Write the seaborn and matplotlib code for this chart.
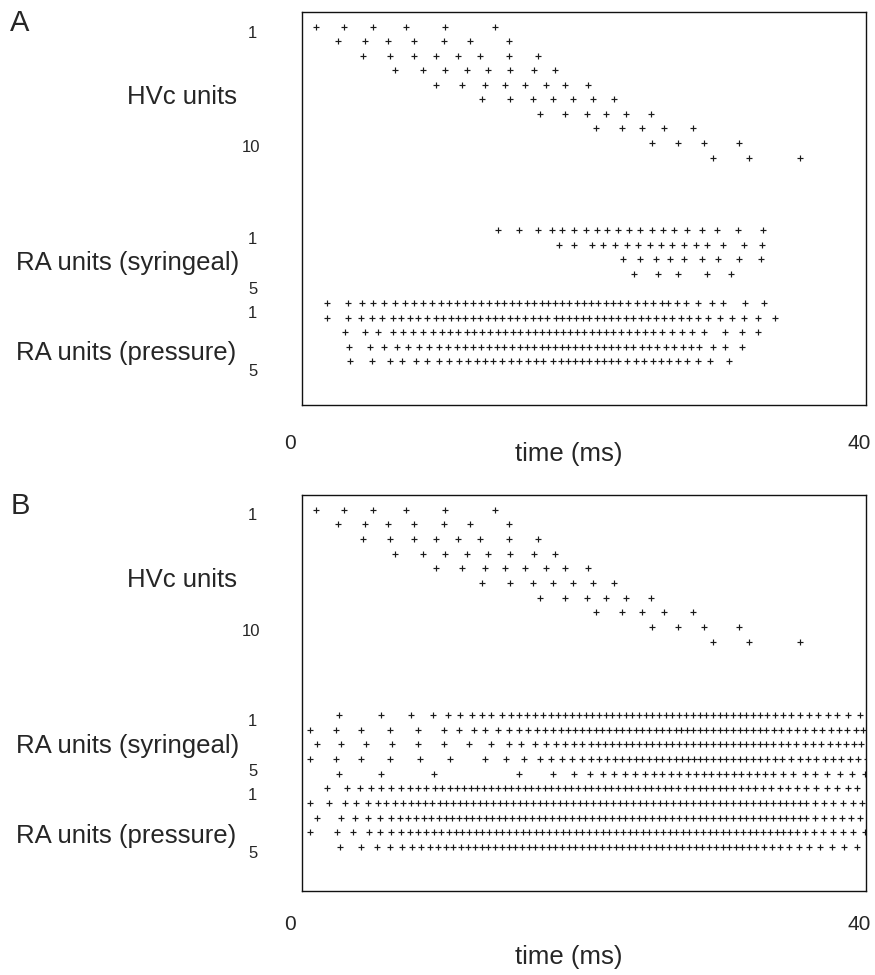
import matplotlib
matplotlib.use("Agg")
import matplotlib.pyplot as plt
import seaborn as sns
import pandas as pd

# ---------------- spike times (ms) ----------------
# HVc units 1..10 (same input pattern in both panels)
hvc_units = [
    [1.83, 3.80, 5.84, 8.16, 10.90, 14.42],
    [3.38, 5.27, 6.89, 8.72, 10.83, 12.66, 15.40],
    [5.13, 7.03, 8.72, 10.27, 11.81, 13.36, 15.40, 17.44],
    [7.38, 9.35, 10.90, 12.45, 13.92, 15.47, 17.16, 18.64],
    [10.27, 12.10, 13.71, 15.12, 16.53, 18.00, 19.34, 20.96],
    [13.50, 15.47, 17.09, 18.50, 19.90, 21.31, 22.78],
    [17.58, 19.34, 20.89, 22.22, 23.63, 25.39],
    [21.52, 23.35, 24.75, 26.30, 28.34],
    [25.46, 27.29, 29.11, 31.58],
    [29.75, 32.28, 35.86],
]

# Panel A: RA syringeal units 1..5
ra_syringeal_a = [
    [14.63, 16.10, 17.44, 18.42, 19.13, 19.97, 20.82, 21.59, 22.29, 23.07, 23.84,
     24.61, 25.46, 26.23, 27.00, 27.92, 28.97, 30.03, 31.50, 33.26],
    [18.92, 19.97, 21.24, 22.01, 22.86, 23.70, 24.47, 25.32, 26.09, 26.86, 27.71,
     28.55, 29.32, 30.45, 31.93, 33.19],
    [23.40, 24.61, 25.74, 26.72, 27.71, 28.99, 30.08, 31.60, 33.12],
    [24.21, 25.90, 27.26, 29.30, 30.99],
    [],
]

# Panel A: RA pressure units 1..5
ra_pressure_a = [
    [2.62, 4.06, 5.04, 5.86, 6.61, 7.38, 8.09, 8.74, 9.37, 9.96, 10.60, 11.20, 11.77,
     12.33, 12.89, 13.43, 13.99, 14.54, 15.07, 15.61, 16.13, 16.67, 17.18, 17.70,
     18.17, 18.64, 19.15, 19.65, 20.16, 20.68, 21.19, 21.68, 22.20, 22.71, 23.23,
     23.79, 24.40, 24.96, 25.55, 26.14, 26.60, 27.20, 27.85, 28.72, 29.66, 30.47,
     32.00, 33.33],
    [2.62, 4.06, 5.00, 5.75, 6.45, 7.22, 7.81, 8.44, 9.02, 9.61, 10.25, 10.78, 11.30,
     11.79, 12.31, 12.85, 13.36, 13.90, 14.42, 14.93, 15.47, 15.99, 16.53, 17.07,
     17.58, 18.10, 18.68, 19.15, 19.62, 20.11, 20.58, 21.05, 21.57, 22.08, 22.57,
     23.09, 23.61, 24.14, 24.68, 25.20, 25.74, 26.30, 26.88, 27.48, 28.08, 28.71,
     29.42, 30.24, 31.06, 31.93, 32.93, 34.11],
    [3.87, 5.27, 6.21, 7.22, 7.93, 8.67, 9.37, 10.04, 10.67, 11.25, 11.84, 12.43,
     12.96, 13.52, 14.06, 14.61, 15.12, 15.66, 16.17, 16.72, 17.23, 17.74, 18.24,
     18.68, 19.18, 19.69, 20.20, 20.70, 21.22, 21.73, 22.22, 22.74, 23.28, 23.84,
     24.40, 24.96, 25.55, 26.18, 26.84, 27.55, 28.25, 29.14, 30.59, 31.77, 32.93],
    [4.15, 5.63, 6.61, 7.55, 8.32, 9.07, 9.77, 10.50, 11.13, 11.72, 12.31, 12.89,
     13.43, 13.99, 14.54, 15.07, 15.63, 16.17, 16.69, 17.18, 17.70, 18.16, 18.64,
     19.11, 19.57, 20.04, 20.56, 21.05, 21.57, 22.08, 22.57, 23.09, 23.61, 24.14,
     24.73, 25.27, 25.83, 26.44, 27.03, 27.62, 28.18, 28.78, 29.77, 30.59, 31.81],
    [4.22, 5.79, 7.03, 7.90, 8.86, 9.66, 10.48, 11.18, 11.88, 12.54, 13.13, 13.71,
     14.30, 14.89, 15.54, 16.13, 16.72, 17.28, 17.81, 18.52, 19.04, 19.53, 20.04,
     20.56, 21.05, 21.57, 22.08, 22.57, 23.09, 23.68, 24.31, 24.92, 25.51, 26.09,
     26.67, 27.26, 27.90, 28.67, 29.54, 30.89],
]

# Panel B: RA syringeal units 1..5
ra_syringeal_b = [
    [3.45, 6.42, 8.49, 10.06, 11.11, 11.98, 12.80, 13.52, 14.16, 14.91, 15.52, 16.10,
     16.69, 17.25, 17.79, 18.33, 18.85, 19.36, 19.85, 20.32, 20.79, 21.26, 21.73,
     22.20, 22.67, 23.14, 23.61, 24.07, 24.54, 25.01, 25.48, 25.95, 26.42, 26.88,
     27.36, 27.87, 28.34, 28.81, 29.28, 29.75, 30.22, 30.68, 31.15, 31.62, 32.09,
     32.56, 33.03, 33.57, 34.09, 34.67, 35.25, 35.84, 36.48, 37.13, 37.83, 38.49,
     39.24, 40.06],
    [1.39, 3.26, 5.01, 7.05, 9.00, 10.81, 11.88, 12.92, 13.69, 14.63, 15.38, 16.08,
     16.74, 17.37, 17.95, 18.50, 19.04, 19.55, 20.06, 20.56, 21.03, 21.50, 21.96,
     22.43, 22.90, 23.37, 23.84, 24.31, 24.77, 25.25, 25.72, 26.18, 26.65, 27.12,
     27.48, 27.92, 28.34, 28.81, 29.28, 29.75, 30.22, 30.68, 31.15, 31.62, 32.09,
     32.56, 33.03, 33.50, 34.02, 34.55, 35.09, 35.65, 36.24, 36.85, 37.43, 38.02,
     38.61, 39.19, 39.78, 40.30],
    [1.92, 3.61, 5.37, 7.19, 9.00, 10.81, 12.59, 14.16, 15.38, 16.27, 17.21, 17.98,
     18.68, 19.36, 19.97, 20.56, 21.15, 21.66, 22.17, 22.67, 23.14, 23.61, 24.07,
     24.54, 25.01, 25.48, 25.95, 26.42, 26.88, 27.36, 27.87, 28.34, 28.81, 29.28,
     29.75, 30.22, 30.68, 31.15, 31.62, 32.09, 32.56, 33.03, 33.50, 33.97, 34.51,
     35.02, 35.60, 36.20, 36.78, 37.36, 37.95, 38.54, 39.12, 39.66, 40.13],
    [1.39, 3.26, 5.01, 7.01, 9.12, 11.27, 13.69, 15.21, 16.43, 17.56, 18.38, 19.13,
     19.85, 20.53, 21.15, 21.73, 22.29, 22.83, 23.35, 23.84, 24.31, 24.77, 25.25,
     25.72, 26.18, 26.65, 27.12, 27.55, 28.00, 28.40, 28.81, 29.28, 29.75, 30.22,
     30.68, 31.15, 31.62, 32.09, 32.56, 33.03, 33.57, 34.09, 34.62, 35.25, 35.84,
     36.43, 37.01, 37.60, 38.19, 38.77, 39.36, 39.94, 40.58],
    [3.45, 6.42, 10.13, 16.10, 18.50, 19.97, 21.08, 22.01, 22.78, 23.54, 24.24,
     24.94, 25.60, 26.18, 26.77, 27.36, 27.99, 28.57, 29.11, 29.63, 30.17, 30.68,
     31.22, 31.74, 32.28, 32.84, 33.38, 33.97, 34.67, 35.37, 36.20, 36.94, 37.78,
     38.66, 39.52, 40.46],
]

# Panel B: RA pressure units 1..5
ra_pressure_b = [
    [2.62, 4.03, 4.90, 5.68, 6.42, 7.12, 7.78, 8.42, 9.00, 9.59, 10.18, 10.71, 11.23,
     11.74, 12.24, 12.71, 13.17, 13.64, 14.11, 14.63, 15.10, 15.56, 16.03, 16.50,
     16.97, 17.44, 17.91, 18.38, 18.85, 19.32, 19.78, 20.25, 20.72, 21.19, 21.66,
     22.13, 22.60, 23.07, 23.54, 24.00, 24.47, 24.94, 25.41, 25.88, 26.35, 26.81,
     27.29, 27.87, 28.34, 28.81, 29.28, 29.75, 30.22, 30.68, 31.15, 31.69, 32.21,
     32.72, 33.26, 33.85, 34.44, 35.02, 35.65, 36.31, 37.01, 37.76, 38.49, 39.24,
     39.89],
    [1.39, 2.74, 3.85, 4.62, 5.49, 6.19, 6.77, 7.36, 7.95, 8.49, 9.00, 9.51, 10.01,
     10.53, 10.99, 11.46, 11.93, 12.40, 12.87, 13.34, 13.80, 14.28, 14.75, 15.21,
     15.68, 16.15, 16.62, 17.09, 17.56, 18.02, 18.50, 18.97, 19.43, 19.90, 20.37,
     20.84, 21.31, 21.78, 22.24, 22.71, 23.19, 23.65, 24.12, 24.59, 25.06, 25.53,
     26.00, 26.46, 26.93, 27.40, 27.87, 28.34, 28.81, 29.28, 29.75, 30.22, 30.68,
     31.15, 31.62, 32.09, 32.56, 33.03, 33.50, 33.97, 34.43, 34.90, 35.37, 35.84,
     36.31, 36.90, 37.55, 38.19, 38.89, 39.59, 40.25],
    [1.92, 3.57, 4.55, 5.49, 6.31, 7.08, 7.71, 8.30, 8.88, 9.42, 9.94, 10.46, 10.95,
     11.41, 11.88, 12.36, 12.82, 13.29, 13.76, 14.23, 14.68, 15.14, 15.61, 16.08,
     16.55, 17.02, 17.49, 17.95, 18.42, 18.90, 19.36, 19.83, 20.30, 20.77, 21.24,
     21.71, 22.17, 22.64, 23.11, 23.58, 24.05, 24.52, 24.99, 25.46, 25.93, 26.39,
     26.86, 27.33, 27.87, 28.34, 28.81, 29.28, 29.75, 30.22, 30.68, 31.15, 31.62,
     32.09, 32.56, 33.03, 33.50, 33.97, 34.43, 34.90, 35.37, 35.84, 36.31, 36.90,
     37.53, 38.19, 38.82, 39.47, 40.10],
    [1.39, 3.33, 4.43, 5.53, 6.31, 7.08, 7.78, 8.42, 9.00, 9.59, 10.13, 10.64, 11.16,
     11.65, 12.12, 12.59, 13.06, 13.52, 13.99, 14.47, 14.92, 15.41, 15.86, 16.35,
     16.80, 17.29, 17.74, 18.23, 18.68, 19.17, 19.62, 20.11, 20.56, 21.05, 21.50,
     21.99, 22.44, 22.93, 23.38, 23.87, 24.32, 24.81, 25.26, 25.75, 26.20, 26.69,
     27.14, 27.63, 28.08, 28.57, 29.02, 29.51, 29.96, 30.45, 30.90, 31.39, 31.84,
     32.33, 32.78, 33.27, 33.72, 34.21, 34.66, 35.15, 35.62, 36.24, 36.87, 37.50,
     38.19, 38.89, 39.59, 40.40],
    [3.52, 4.99, 6.12, 7.03, 7.88, 8.58, 9.21, 9.85, 10.42, 10.96, 11.49, 12.01,
     12.50, 12.98, 13.47, 13.94, 14.42, 14.89, 15.37, 15.83, 16.31, 16.77, 17.25,
     17.71, 18.19, 18.65, 19.13, 19.59, 20.07, 20.53, 21.01, 21.47, 21.95, 22.41,
     22.89, 23.35, 23.83, 24.29, 24.77, 25.23, 25.71, 26.17, 26.65, 27.11, 27.59,
     28.05, 28.53, 28.99, 29.47, 29.93, 30.41, 30.87, 31.35, 31.81, 32.29, 32.77,
     33.30, 33.86, 34.47, 35.10, 35.78, 36.50, 37.28, 38.10, 38.95, 39.85],
]

time_ticks = [0, 40]
time_label = "time (ms)"
group_labels = ["HVc units", "RA units (syringeal)", "RA units (pressure)"]

# ---------------- figure ----------------
sns.set_theme(style="white")
plt.rcParams["font.family"] = ["Liberation Sans", "DejaVu Sans"]

W, H = 875, 975
fig = plt.figure(figsize=(W / 100, H / 100), dpi=100)
fig.patch.set_facecolor("white")


def fx(x):
    return x / W


def fy(y):
    return 1 - y / H


def raster_frame(groups):
    """Stack spike trains into one long table; rows 0-9 HVc, 14-18 / 19-23 RA."""
    recs = []
    offsets = [0, 14, 19]
    for units, off in zip(groups, offsets):
        for i, train in enumerate(units):
            for t in train:
                recs.append({"time": t, "row": off + i})
    return pd.DataFrame(recs)


def draw_panel(box_top, box_bottom, groups, letter, xlab_y, time_y):
    ax = fig.add_axes([fx(302), fy(box_bottom), fx(866) - fx(302),
                       (box_bottom - box_top) / H])
    df = raster_frame(groups)
    sns.scatterplot(data=df, x="time", y="row", marker="+", s=24,
                    color="#1a1a1a", linewidth=0.85, legend=False, ax=ax)
    ax.set_xlim(0.84, 40.5)
    ax.set_ylim(26, -1)
    ax.set_xticks([])
    ax.set_yticks([])
    ax.set_xlabel("")
    ax.set_ylabel("")
    for sp in ax.spines.values():
        sp.set_visible(True)
        sp.set_color("#111111")
        sp.set_linewidth(1.0)

    t0 = box_top
    fig.text(fx(20), fy(t0 + 11), letter, fontsize=21, ha="center", va="center")
    num = dict(fontsize=12, ha="center", va="center")
    fig.text(fx(252), fy(t0 + 21), "1", **num)
    fig.text(fx(251), fy(t0 + 136), "10", **num)
    fig.text(fx(252), fy(t0 + 227), "1", **num)
    fig.text(fx(253), fy(t0 + 277), "5", **num)
    fig.text(fx(252), fy(t0 + 301), "1", **num)
    fig.text(fx(253), fy(t0 + 359), "5", **num)
    lab = dict(fontsize=18.5, ha="right", va="center")
    fig.text(fx(237), fy(t0 + 85), group_labels[0], **lab)
    fig.text(fx(239), fy(t0 + 251), group_labels[1], **lab)
    fig.text(fx(236), fy(t0 + 341), group_labels[2], **lab)

    # time axis annotations placed on the data scale
    for tv in time_ticks:
        xpix = 302 + (tv - 0.84) / (40.5 - 0.84) * 564
        fig.text(fx(xpix), fy(xlab_y), str(tv), fontsize=15, ha="center", va="center")
    fig.text(fx(569), fy(time_y), time_label, fontsize=18.5, ha="center", va="center")
    return ax


draw_panel(12, 405, [hvc_units, ra_syringeal_a, ra_pressure_a], "A", 443, 454)
draw_panel(495, 891, [hvc_units, ra_syringeal_b, ra_pressure_b], "B", 925, 957)

fig.savefig("out.png", dpi=100, facecolor="white")
